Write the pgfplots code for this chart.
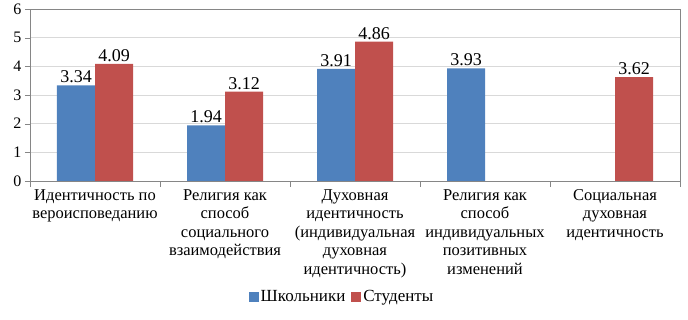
\documentclass[border=0pt]{standalone}
\usepackage{pgfplots}
\pgfplotsset{compat=1.18}
\usepackage{fontspec}
\setmainfont{Liberation Serif}
\definecolor{sblue}{HTML}{4F81BD}
\definecolor{sred}{HTML}{C0504D}
\definecolor{gridc}{HTML}{D9D9D9}
\definecolor{axc}{HTML}{868686}
\begin{document}
\begin{tikzpicture}[x=1pt,y=1pt]
\begin{axis}[
  at={(0,0)}, anchor=south west,
  width=650pt, height=172pt, scale only axis,
  ymin=0, ymax=6, ytick={0,1,...,6},
  xmin=-0.5, xmax=4.5,
  xtick={0,1,2,3,4},
  xticklabels={
    {Идентичность по\\вероисповеданию},
    {Религия как\\способ\\социального\\взаимодействия},
    {Духовная\\идентичность\\(индивидуальная\\духовная\\идентичность)},
    {Религия как\\способ\\индивидуальных\\позитивных\\изменений},
    {Социальная\\духовная\\идентичность}},
  xticklabel style={align=center, font=\fontsize{16.5}{18.5}\selectfont, anchor=north, yshift=0pt},
  major x tick style={draw=none},
  minor xtick={-0.5,0.5,1.5,2.5,3.5,4.5},
  minor tick length=6pt,
  tick align=outside,
  xtick pos=bottom, ytick pos=left,
  major tick length=5pt,
  tick style={axc},
  yticklabel style={font=\fontsize{16}{18}\selectfont},
  /pgf/number format/assume math mode=true,
  ymajorgrids, grid style={gridc, line width=0.8pt},
  axis line style={axc, line width=0.8pt},
  ybar=0pt, bar width=38pt,
  nodes near coords,
  every node near coord/.append style={font=\fontsize{18}{20}\selectfont, /pgf/number format/fixed, /pgf/number format/precision=2, /pgf/number format/fixed zerofill, inner sep=2pt},
  legend style={at={(axis description cs:0.48,-0.675)}, anchor=center, draw=none, legend columns=2,
    font=\fontsize{17}{19}\selectfont, /tikz/every even column/.append style={column sep=4pt}},
  legend image code/.code={\fill[#1] (0pt,-5pt) rectangle (10pt,5pt);},
]
\addplot[fill=sblue, draw=none] coordinates {(0,3.34) (1,1.94) (2,3.91) (3,3.93)};
\addplot[fill=sred, draw=none] coordinates {(0,4.09) (1,3.12) (2,4.86) (4,3.62)};
\legend{Школьники, Студенты}
\end{axis}
\pgfresetboundingbox
\path (-30,-139) rectangle (658,181);
\end{tikzpicture}
\end{document}
